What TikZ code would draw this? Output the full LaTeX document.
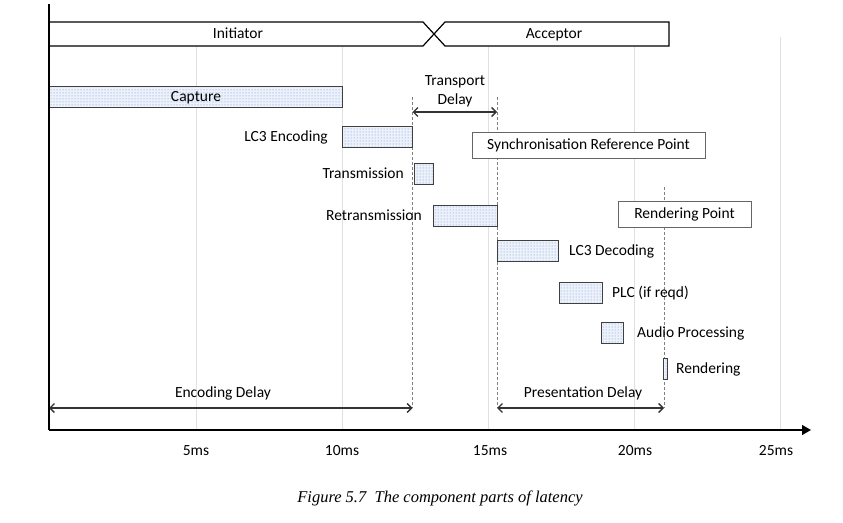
\documentclass[tikz,border=0pt]{standalone}
\usepackage{fontspec}
\setmainfont{Carlito}
\newfontfamily\captionfont{Liberation Serif}
\usetikzlibrary{positioning,patterns,arrows.meta}
\definecolor{dotblue}{RGB}{105,145,215}
\definecolor{barback}{RGB}{236,241,250}

\begin{document}
\begin{tikzpicture}[
        x=1pt, y=-1pt,
        font=\fontsize{15.5}{18}\selectfont,
        % Style for the grey grid lines
        gridline/.style={draw=black!12, line width=0.8pt},
        % Style for the dashed time markers
        marker/.style={draw=black!50, line width=0.7pt, dash pattern=on 3pt off 2pt},
        % Style for the dotted activity bars
        bar/.style={draw=black!75, line width=1pt, anchor=north west, inner sep=0pt,
            minimum height=21pt, preaction={fill=barback}, pattern=dots, pattern color=dotblue},
        % Style for single-line texts
        tag/.style={inner sep=0pt, text height=12.5pt, text depth=3pt},
        % Style for the framed reference notes
        refbox/.style={draw=black!60, line width=0.8pt, fill=white, minimum height=26pt, inner sep=5pt,
            text height=12.5pt, text depth=3pt},
        % Style for the delay arrows
        span/.style={{Straight Barb[length=4.5pt,width=9pt]}-{Straight Barb[length=4.5pt,width=9pt]}, line width=1.3pt, draw=black!80}
    ]
        \useasboundingbox (0,0) rectangle (843,522);

        % --- Grid lines every 5ms ---
        \foreach \gx in {196,342,488,634,780} {
            \draw[gridline] (\gx,37) -- (\gx,430);
        }

        % --- Header with the two roles ---
        \draw[line width=1.2pt, fill=white] (49,22) -- (423,22) -- (445,46) -- (669,46) -- (669,22) -- (445,22) -- (423,46) -- (49,46);
        \node[tag] (init) at (238,34) {Initiator};
        \node[tag] (acc) at (554,34) {Acceptor};

        % --- Time markers ---
        \coordinate (encEnd) at (412.5,97);
        \coordinate (encLow) at (412.5,408);
        \coordinate (syncTop) at (497,97);
        \coordinate (syncLow) at (497,408);
        \coordinate (rendTop) at (664,187);
        \coordinate (rendLow) at (664,408);
        \draw[marker] (encEnd) -- (encLow);
        \draw[marker] (syncTop) -- (syncLow);
        \draw[marker] (rendTop) -- (rendLow);

        % --- Activity bars ---
        \node[bar, minimum width=293pt] (capture) at (49,86) {};
        \node[tag] at (capture.center) {Capture};

        \node[bar, minimum width=70pt] (encode) at (342,126) {};
        \node[tag, left=14pt of encode] {LC3 Encoding};

        \node[bar, minimum width=19pt] (trans) at (414,163) {};
        \node[tag, left=10pt of trans] {Transmission};

        \node[bar, minimum width=64pt] (retrans) at (433,205) {};
        \node[tag, left=11pt of retrans] {Retransmission};

        \node[bar, minimum width=61pt] (decode) at (497,240) {};
        \node[tag, right=10pt of decode] {LC3 Decoding};

        \node[bar, minimum width=43pt] (plc) at (559,282) {};
        \node[tag, right=9pt of plc] {PLC (if reqd)};

        \node[bar, minimum width=22pt] (audio) at (601,322) {};
        \node[tag, right=13pt of audio] {Audio Processing};

        \node[bar, minimum width=4pt] (render) at (663,358) {};
        \node[tag, right=8pt of render] {Rendering};

        % --- Reference points ---
        \node[refbox, minimum width=233pt] (sync) at (588.5,145) {Synchronisation Reference Point};
        \node[refbox, minimum width=133pt] (rpoint) at (684.5,214) {Rendering Point};

        % --- Delays ---
        \coordinate (tdA) at (412.5,112);
        \coordinate (tdB) at (497,112);
        \draw[span] (tdA) -- (tdB);
        \node[align=center, font=\fontsize{15.5}{19}\selectfont] (tdLabel) at (455,91.5) {Transport\\Delay};

        \coordinate (edA) at (49,408);
        \draw[span] (edA) -- (encLow);
        \node[tag] (edLabel) at (223,393) {Encoding Delay};

        \draw[span] (syncLow) -- (rendLow);
        \node[tag] (pdLabel) at (583,393) {Presentation Delay};

        % --- Axes ---
        \coordinate (origin) at (49,430);
        \coordinate (yTop) at (49,4);
        \coordinate (xEnd) at (811,430);
        \draw[line width=1.3pt] (yTop) -- (origin);
        \draw[line width=1.3pt, -{Triangle[length=9pt,width=10pt]}] (origin) -- (xEnd);

        % --- Tick labels ---
        \foreach \gx/\lbl in {196/5ms,342/10ms,490/15ms,635/20ms,776/25ms} {
            \node[tag] at (\gx,451) {\lbl};
        }

        % --- Caption ---
        \node[font=\captionfont\itshape\fontsize{16.5}{18}\selectfont] (caption) at (440,498) {Figure 5.7\ \ The component parts of latency};
    \end{tikzpicture}
\end{document}
